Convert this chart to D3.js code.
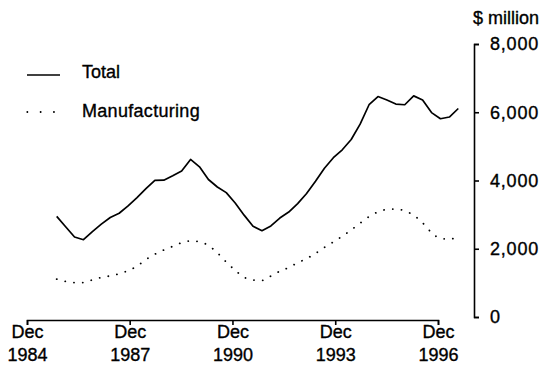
<!DOCTYPE html>
<html>
<head>
<meta charset="utf-8">
<script src="https://cdn.jsdelivr.net/npm/d3@7"></script>
<style>
  html, body { margin: 0; padding: 0; background: #fff; }
  svg { display: block; }
  text { font-family: "Liberation Sans", Arial, Helvetica, sans-serif; fill: #000; stroke: #000; stroke-width: 0.35px; }
</style>
</head>
<body>
<svg id="chart" width="548" height="366"></svg>
<script>
// ---- data ----
const quarters = [
  "Sep 1985","Dec 1985","Mar 1986","Jun 1986","Sep 1986","Dec 1986",
  "Mar 1987","Jun 1987","Sep 1987","Dec 1987","Mar 1988","Jun 1988",
  "Sep 1988","Dec 1988","Mar 1989","Jun 1989","Sep 1989","Dec 1989",
  "Mar 1990","Jun 1990","Sep 1990","Dec 1990","Mar 1991","Jun 1991",
  "Sep 1991","Dec 1991","Mar 1992","Jun 1992","Sep 1992","Dec 1992",
  "Mar 1993","Jun 1993","Sep 1993","Dec 1993","Mar 1994","Jun 1994",
  "Sep 1994","Dec 1994","Mar 1995","Jun 1995","Sep 1995","Dec 1995",
  "Mar 1996","Jun 1996","Sep 1996","Dec 1996"
];
const total = [
  2950, 2644, 2344, 2265, 2502, 2722,
  2917, 3040, 3254, 3500, 3760, 4005,
  4010, 4141, 4280, 4617, 4401, 4029,
  3810, 3645, 3340, 2985, 2660, 2529,
  2670, 2900, 3075, 3323, 3618, 3978,
  4360, 4667, 4900, 5200, 5650, 6220,
  6460, 6360, 6240, 6220, 6480, 6360,
  5990, 5810, 5860, 6110
];
const manufacturing = [
  1110, 1040, 1010, 1010, 1088, 1158,
  1205, 1265, 1360, 1490, 1685, 1840,
  1965, 2070, 2177, 2230, 2205, 2095,
  1880, 1610, 1370, 1165, 1085, 1070,
  1200, 1340, 1450, 1590, 1710, 1865,
  2040, 2200, 2365, 2550, 2750, 2940,
  3080, 3150, 3165, 3110, 2980, 2760,
  2475, 2300, 2280, 2360
];
const xTickMonth = "Dec";
const xTickYears = [1984, 1987, 1990, 1993, 1996];
const yTicks = [0, 2000, 4000, 6000, 8000];
const yUnit = "$ million";
const seriesNames = ["Total", "Manufacturing"];

// ---- chart ----
const svg = d3.select("#chart");
const fontSize = 18;

const xAxisScale = d3.scaleTime()
  .domain([new Date(1984, 11, 1), new Date(1996, 11, 1)])
  .range([27, 438]);
const xData = d3.scalePoint().domain(quarters).range([56.7, 458.3]).padding(0);
const y = d3.scaleLinear().domain([0, 8000]).range([317, 44]);

// x axis
const gx = svg.append("g")
  .attr("transform", "translate(0,320)")
  .call(d3.axisBottom(xAxisScale)
    .tickValues(xTickYears.map(yr => new Date(yr, 11, 1)))
    .tickSize(5).tickSizeOuter(5).tickPadding(6)
    .tickFormat(""));
gx.selectAll("path, line").attr("stroke", "#000").attr("stroke-width", 1.6);
gx.selectAll(".tick text").remove();
gx.selectAll(".tick").each(function(d, i) {
  const t = d3.select(this).append("text")
    .attr("text-anchor", "middle")
    .style("font-size", fontSize + "px");
  t.append("tspan").attr("x", 0).attr("y", 18).text(xTickMonth);
  t.append("tspan").attr("x", 0).attr("y", 41).text(xTickYears[i]);
});

// y axis
const gy = svg.append("g")
  .attr("transform", "translate(474,0)")
  .call(d3.axisRight(y).tickValues(yTicks).tickSize(5).tickSizeOuter(5)
    .tickPadding(11).tickFormat(d3.format(",")));
gy.select(".domain").attr("stroke", "#000").attr("stroke-width", 1.6);
gy.selectAll("line").attr("stroke", "#000").attr("stroke-width", 1.6);
gy.selectAll("text")
  .attr("font-family", null)
  .attr("fill", null)
  .style("font-size", fontSize + "px")
  .style("letter-spacing", "0.8px");

svg.append("text")
  .attr("x", 473).attr("y", 24)
  .style("font-size", fontSize + "px")
  .text(yUnit);

// lines
const lineTotal = d3.line().x((d, i) => xData(quarters[i])).y(d => y(d));
svg.append("path")
  .datum(total)
  .attr("d", lineTotal)
  .attr("fill", "none")
  .attr("stroke", "#000")
  .attr("stroke-width", 1.7)
  .attr("stroke-linejoin", "round");

svg.append("path")
  .datum(manufacturing)
  .attr("d", d3.line().curve(d3.curveMonotoneX).x((d, i) => xData(quarters[i])).y(d => y(d)))
  .attr("fill", "none")
  .attr("stroke", "#000")
  .attr("stroke-width", 1.8)
  .attr("stroke-linecap", "round")
  .attr("stroke-dasharray", "0.1 8.7");

// legend
const lg = svg.append("g");
lg.append("line").attr("x1", 27).attr("x2", 60).attr("y1", 75).attr("y2", 75)
  .attr("stroke", "#000").attr("stroke-width", 1.6);
lg.append("text").attr("x", 82).attr("y", 78).style("font-size", fontSize + "px").text(seriesNames[0]);
lg.append("line").attr("x1", 27.3).attr("x2", 54).attr("y1", 112).attr("y2", 112)
  .attr("stroke", "#000").attr("stroke-width", 1.8)
  .attr("stroke-linecap", "round").attr("stroke-dasharray", "0.1 13.2");
lg.append("text").attr("x", 82).attr("y", 117).style("font-size", fontSize + "px")
  .style("letter-spacing", "0.3px").text(seriesNames[1]);
</script>
</body>
</html>
